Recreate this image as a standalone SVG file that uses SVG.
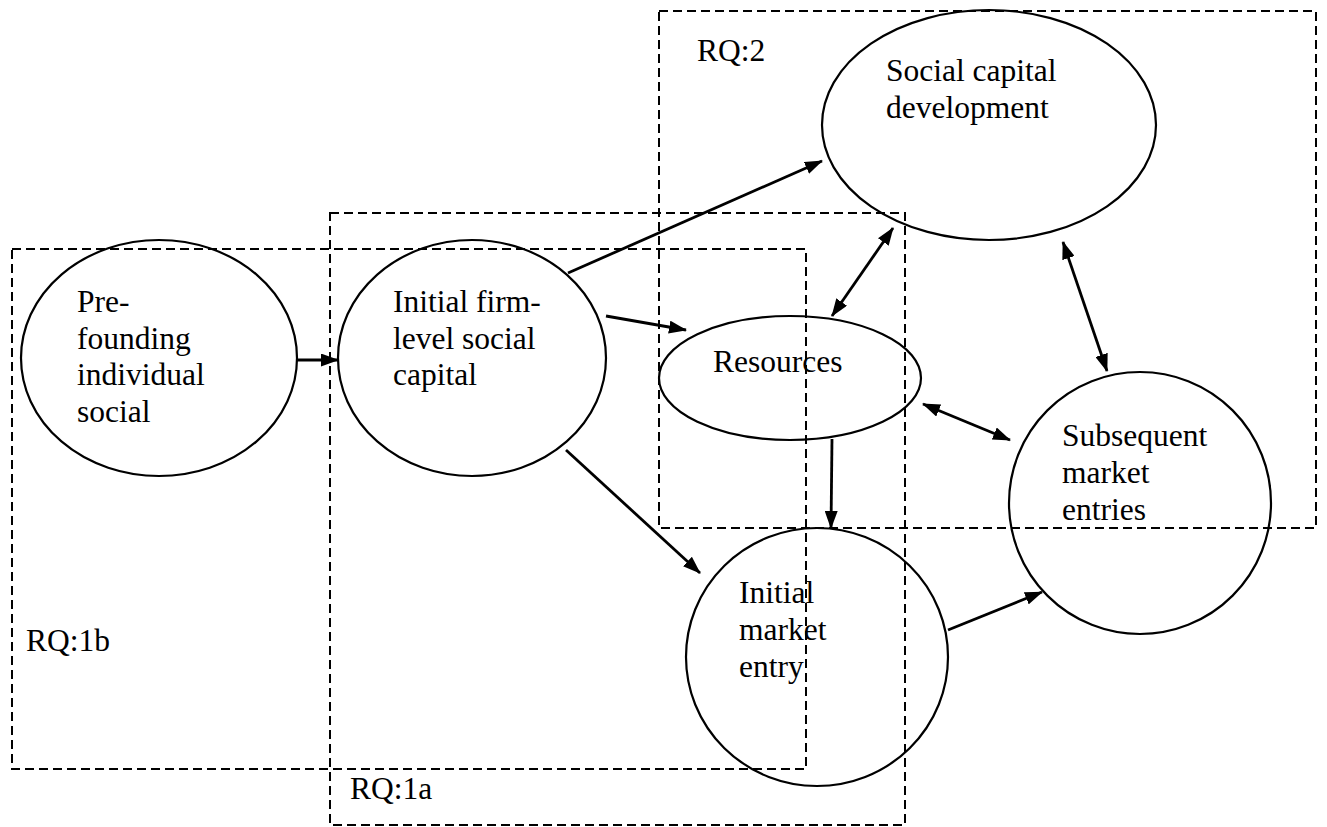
<svg xmlns="http://www.w3.org/2000/svg" width="1327" height="827" viewBox="0 0 1327 827">
  <style>
    .scope { fill: none; stroke: #000; stroke-width: 2; stroke-dasharray: 9 5; }
    .node { fill: none; stroke: #000; stroke-width: 2.2; }
    .label { font-family: "Liberation Serif", "Times New Roman", serif; font-size: 31.5px; fill: #000; }
    .edge { fill: none; stroke: #000; stroke-width: 2.8; }
  </style>
  <defs>
    <marker id="head" viewBox="0 0 18 13" refX="17" refY="6.5" markerWidth="18" markerHeight="13" markerUnits="userSpaceOnUse" orient="auto-start-reverse">
      <path d="M0,0 L18,6.5 L0,13 z" fill="#000"/>
    </marker>
  </defs>

  <rect width="1327" height="827" fill="#fff"/>

  <!-- research-question scopes -->
  <g id="scopes">
    <g id="rq1b">
      <rect class="scope" x="12" y="249" width="794" height="520"/>
      <text class="label" x="26" y="651">RQ:1b</text>
    </g>
    <g id="rq1a">
      <rect class="scope" x="330" y="213" width="575" height="612"/>
      <text class="label" x="350" y="799">RQ:1a</text>
    </g>
    <g id="rq2">
      <rect class="scope" x="659" y="11" width="657" height="517"/>
      <text class="label" x="697" y="61">RQ:2</text>
    </g>
  </g>

  <!-- concepts -->
  <g id="prefounding">
    <ellipse class="node" cx="159" cy="358" rx="138" ry="118"/>
    <text class="label"><tspan x="77" y="312">Pre-</tspan><tspan x="77" y="348.5">founding</tspan><tspan x="77" y="385">individual</tspan><tspan x="77" y="421.5">social</tspan></text>
  </g>
  <g id="initial-firm">
    <ellipse class="node" cx="472" cy="358" rx="134" ry="118"/>
    <text class="label"><tspan x="393" y="312">Initial firm-</tspan><tspan x="393" y="348.5">level social</tspan><tspan x="393" y="385">capital</tspan></text>
  </g>
  <g id="resources">
    <ellipse class="node" cx="790" cy="378" rx="131" ry="62"/>
    <text class="label" x="713" y="372">Resources</text>
  </g>
  <g id="social-capital-development">
    <ellipse class="node" cx="989" cy="125" rx="167" ry="115"/>
    <text class="label"><tspan x="886" y="81">Social capital</tspan><tspan x="886" y="118">development</tspan></text>
  </g>
  <g id="initial-market-entry">
    <ellipse class="node" cx="817" cy="657" rx="131" ry="129"/>
    <text class="label"><tspan x="739" y="603">Initial</tspan><tspan x="739" y="640">market</tspan><tspan x="739" y="677">entry</tspan></text>
  </g>
  <g id="subsequent-market-entries">
    <ellipse class="node" cx="1140" cy="503" rx="131" ry="131"/>
    <text class="label"><tspan x="1062" y="446">Subsequent</tspan><tspan x="1062" y="483">market</tspan><tspan x="1062" y="520">entries</tspan></text>
  </g>

  <!-- relationships -->
  <g id="connectors">
    <line class="edge" x1="297" y1="360" x2="338" y2="360" marker-end="url(#head)"/>
    <line class="edge" x1="568" y1="273" x2="822" y2="161" marker-end="url(#head)"/>
    <line class="edge" x1="606" y1="316" x2="686" y2="330" marker-end="url(#head)"/>
    <line class="edge" x1="566" y1="450" x2="700" y2="573" marker-end="url(#head)"/>
    <line class="edge" x1="832" y1="316" x2="893" y2="228" marker-start="url(#head)" marker-end="url(#head)"/>
    <line class="edge" x1="1063" y1="242" x2="1107" y2="371" marker-start="url(#head)" marker-end="url(#head)"/>
    <line class="edge" x1="923" y1="404" x2="1010" y2="440" marker-start="url(#head)" marker-end="url(#head)"/>
    <line class="edge" x1="832" y1="439" x2="831" y2="528" marker-end="url(#head)"/>
    <line class="edge" x1="948" y1="630" x2="1042" y2="592" marker-end="url(#head)"/>
  </g>
</svg>
